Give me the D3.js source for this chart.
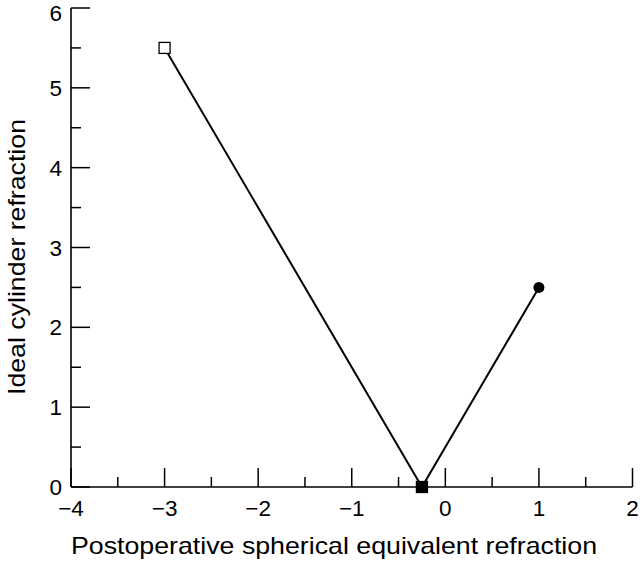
<!DOCTYPE html>
<html><head><meta charset="utf-8">
<script src="https://cdn.jsdelivr.net/npm/d3@7"></script>
<style>body{margin:0;background:#fff}</style>
</head><body>
<script>
const xValues = [-3, -0.25, 1];
const yValues = [5.5, 0, 2.5];
const markers = ["openSquare", "filledSquare", "filledCircle"];
const xTicks = [-4, -3, -2, -1, 0, 1, 2];
const yTicks = [0, 1, 2, 3, 4, 5, 6];
const xMinor = [-3.5, -2.5, -1.5, -0.5, 0.5, 1.5];
const yMinor = [0.5, 1.5, 2.5, 3.5, 4.5, 5.5];
const xTitle = "Postoperative spherical equivalent refraction";
const yTitle = "Ideal cylinder refraction";

const W = 640, H = 562;
const svg = d3.select("body").append("svg").attr("width", W).attr("height", H)
  .style("font-family", "'Liberation Sans', Arial, Helvetica, sans-serif");
const x = d3.scaleLinear().domain([-4, 2]).range([71, 632.5]);
const y = d3.scaleLinear().domain([0, 6]).range([487, 8]);

const g = svg.append("g");
g.append("line").attr("x1", x(-4)).attr("x2", x(2)).attr("y1", y(0)).attr("y2", y(0)).attr("stroke", "#000").attr("stroke-width", 1.6);
g.append("line").attr("x1", x(-4)).attr("x2", x(-4)).attr("y1", y(0)).attr("y2", y(6)).attr("stroke", "#000").attr("stroke-width", 1.6);

g.selectAll(".xt").data(xTicks).join("line").attr("x1", d => x(d)).attr("x2", d => x(d))
  .attr("y1", y(0)).attr("y2", y(0) - 19).attr("stroke", "#000").attr("stroke-width", 1.5);
g.selectAll(".xm").data(xMinor).join("line").attr("x1", d => x(d)).attr("x2", d => x(d))
  .attr("y1", y(0)).attr("y2", y(0) - 10).attr("stroke", "#000").attr("stroke-width", 1.5);
const fmt = d3.format("d");
g.selectAll(".xl").data(xTicks).join("text").attr("x", d => x(d)).attr("y", 516)
  .attr("text-anchor", "middle").attr("font-size", 22.5).text(d => fmt(d));

g.selectAll(".yt").data(yTicks).join("line").attr("x1", x(-4)).attr("x2", x(-4) + 19)
  .attr("y1", d => y(d)).attr("y2", d => y(d)).attr("stroke", "#000").attr("stroke-width", 1.5);
g.selectAll(".ym").data(yMinor).join("line").attr("x1", x(-4)).attr("x2", x(-4) + 10)
  .attr("y1", d => y(d)).attr("y2", d => y(d)).attr("stroke", "#000").attr("stroke-width", 1.5);
g.selectAll(".yl").data(yTicks).join("text").attr("x", 62).attr("y", d => Math.max(y(d) + 8, 21))
  .attr("text-anchor", "end").attr("font-size", 22.5).text(d => fmt(d));

svg.append("text").attr("x", 71).attr("y", 554).attr("font-size", 24)
  .attr("textLength", 526).attr("lengthAdjust", "spacingAndGlyphs").text(xTitle);
svg.append("text").attr("transform", "translate(25,395) rotate(-90)")
  .attr("font-size", 24).attr("textLength", 276).attr("lengthAdjust", "spacingAndGlyphs").text(yTitle);

const pts = xValues.map((v, i) => [v, yValues[i], markers[i]]);
svg.append("path").datum(pts).attr("fill", "none").attr("stroke", "#000").attr("stroke-width", 2)
  .attr("d", d3.line().x(d => x(d[0])).y(d => y(d[1])));

const s = 11;
pts.forEach(p => {
  if (p[2] === "filledCircle") {
    svg.append("circle").attr("cx", x(p[0])).attr("cy", y(p[1])).attr("r", 5.5).attr("fill", "#000");
  } else {
    svg.append("rect").attr("x", x(p[0]) - s / 2).attr("y", y(p[1]) - s / 2).attr("width", s).attr("height", s)
      .attr("fill", p[2] === "openSquare" ? "#fff" : "#000").attr("stroke", "#000").attr("stroke-width", 1.3);
  }
});
</script>
</body></html>
